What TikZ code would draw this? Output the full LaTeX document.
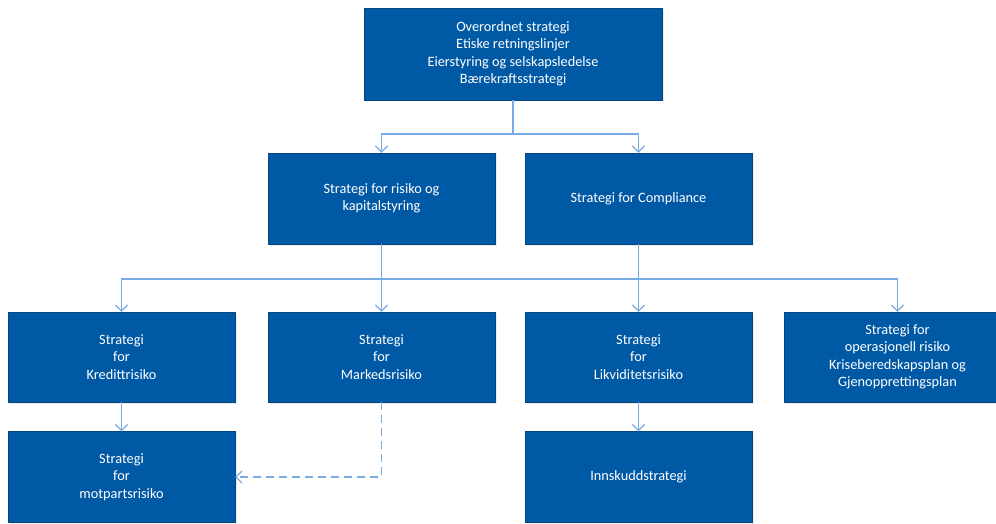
\documentclass[tikz,border=0pt]{standalone}
\usepackage{fontspec}
\setmainfont{Carlito}
\usepackage{xcolor}
\usetikzlibrary{arrows.meta,calc}
\usetikzlibrary{positioning,shapes,shadows}

\definecolor{boxblue}{HTML}{0059A5}
\definecolor{lineblue}{HTML}{78ACE2}

\begin{document}
\begin{tikzpicture}[x=1pt, y=-1pt,
    box/.style={draw=boxblue!80!black, fill=boxblue, text=white, align=center,
        minimum width=227pt, minimum height=91pt, inner sep=2pt,
        font=\fontsize{14.3}{17.5}\selectfont,
        drop shadow={shadow xshift=1.5pt, shadow yshift=-1.5pt, opacity=0.15}},
    link/.style={draw=lineblue, line width=1.5pt},
    arr/.style={link, -{Straight Barb[length=6pt, width=12pt, line width=1.2pt]}}]
    \useasboundingbox (0,0) rectangle (996,524);
    % Nodes
    \node[box, minimum width=298pt, minimum height=92pt] (top) at (513,54)
        {Overordnet strategi\\Etiske retningslinjer\\Eierstyring og selskapsledelse\\Bærekraftsstrategi};
    \node[box] (risk) at (381.5,198.5) {Strategi for risiko og\\kapitalstyring};
    \node[box] (comp) at (638.5,198.5) {Strategi for Compliance};
    \node[box, minimum height=90pt] (kred) at (121.5,357) {Strategi\\for\\Kredittrisiko};
    \node[box, minimum height=90pt] (mark) at (381.5,357) {Strategi\\for\\Markedsrisiko};
    \node[box, minimum height=90pt] (likv) at (638.5,357) {Strategi\\for\\Likviditetsrisiko};
    \node[box, minimum height=90pt] (oper) at (897.5,357)
        {Strategi for\\operasjonell risiko\\Kriseberedskapsplan og\\Gjenopprettingsplan};
    \node[box] (motp) at (121.5,477) {Strategi\\for\\motpartsrisiko};
    \node[box] (innsk) at (638.5,477) {Innskuddstrategi};

    % Arrows
    \coordinate (bus1) at ($(top.south)+(0,34)$);
    \draw[link] (top.south) -- (bus1);
    \draw[arr] (bus1) -| (risk.north);
    \draw[arr] (bus1) -| (comp.north);
    \coordinate (bus2) at (381.5,279);
    \draw[arr] (risk.south) -- (mark.north);
    \draw[arr] (comp.south) -- (likv.north);
    \draw[arr] (bus2) -| (kred.north);
    \draw[arr] (bus2) -| (oper.north);
    \draw[arr] (kred.south) -- (motp.north);
    \draw[arr] (likv.south) -- (innsk.north);
    \draw[arr, dash pattern=on 8pt off 5pt] (mark.south) |- (motp.east);
\end{tikzpicture}
\end{document}
